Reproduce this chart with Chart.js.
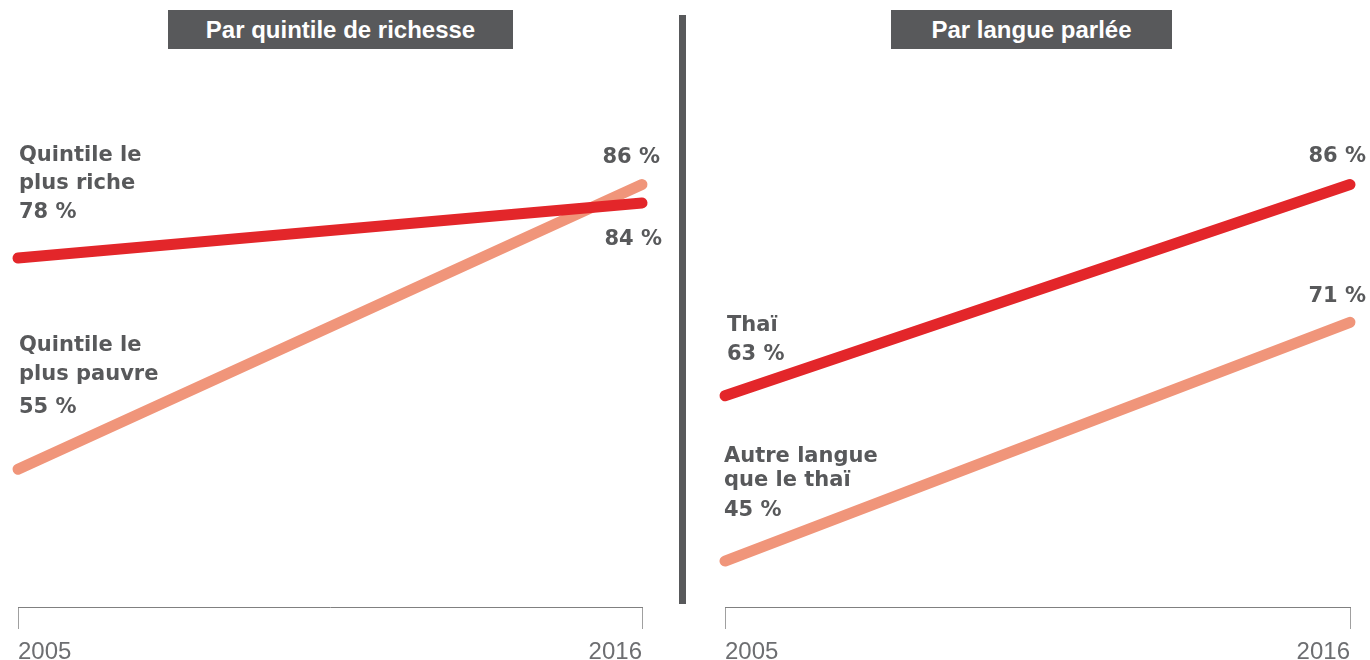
<!DOCTYPE html>
<html>
<head>
<meta charset="utf-8">
<script src="https://cdn.jsdelivr.net/npm/chart.js@4.4.1/dist/chart.umd.min.js"></script>
<style>
  body { margin: 0; background: #fff; width: 1370px; height: 660px; position: relative; overflow: hidden; }
  .box { position: absolute; top: 0; height: 675px; }
  .title { position: absolute; top: 10px; height: 39px; line-height: 40px; background: #58595b; color: #fff;
           font-family: "Liberation Sans Narrow", "Liberation Sans", sans-serif; font-weight: bold; font-size: 24px;
           text-align: center; z-index: 2; }
  #divider { position: absolute; left: 679px; top: 15px; width: 7px; height: 589px; background: #58595b; z-index: 2; }
</style>
</head>
<body>
<div class="box" style="left:0;width:680px"><canvas id="wealth" width="680" height="675"></canvas></div>
<div class="box" style="left:680px;width:690px"><canvas id="language" width="690" height="675"></canvas></div>
<div class="title" style="left:168px;width:345px">Par quintile de richesse</div>
<div class="title" style="left:891px;width:281px">Par langue parlée</div>
<div id="divider"></div>

<script>
// data
var years = ['2005', '2016'];

var richestValues = [78, 84];
var poorestValues = [55, 86];
var richestName = ['Quintile le', 'plus riche'];
var poorestName = ['Quintile le', 'plus pauvre'];

var thaiValues = [63, 86];
var otherLangValues = [45, 71];
var thaiName = ['Thaï'];
var otherLangName = ['Autre langue', 'que le thaï'];

var RED = '#e3262a';
var SALMON = '#f0957a';
var TEXT = '#58595b';

function pct(v) {
  return v + ' %';
}

// writes the series names and values next to the line ends
var pointText = {
  id: 'pointText',
  afterDatasetsDraw: function (chart, args, opts) {
    var ctx = chart.ctx;
    var xs = chart.scales.x, ys = chart.scales.y;
    ctx.save();
    ctx.fillStyle = TEXT;
    ctx.font = 'bold 21px "DejaVu Sans", sans-serif';
    ctx.textBaseline = 'middle';
    opts.items.forEach(function (it) {
      var ds = chart.data.datasets[it.dataset];
      var px = xs.getPixelForValue(it.index);
      var py = ys.getPixelForValue(ds.data[it.index]);
      var lines = (it.index === 0 ? ds.name : []).concat([pct(ds.data[it.index])]);
      ctx.textAlign = it.align;
      lines.forEach(function (line, k) {
        ctx.fillText(line, px + it.dx, py + it.dy[k]);
      });
    });
    ctx.restore();
  }
};

function makeChart(id, top, bottom, padding, items) {
  var ctx = document.getElementById(id).getContext('2d');
  return new Chart(ctx, {
    type: 'line',
    data: {
      labels: years,
      datasets: [
        { name: top.name, data: top.data, borderColor: RED },
        { name: bottom.name, data: bottom.data, borderColor: SALMON }
      ].map(function (d) {
        d.borderWidth = 11;
        d.borderCapStyle = 'round';
        d.pointRadius = 0;
        d.tension = 0;
        d.clip = false;
        return d;
      })
    },
    options: {
      responsive: false,
      animation: false,
      events: [],
      layout: { padding: padding },
      plugins: {
        legend: { display: false },
        tooltip: { enabled: false },
        pointText: { items: items }
      },
      scales: {
        x: {
          offset: false,
          grid: { drawOnChartArea: false, drawTicks: true, tickLength: 22, color: '#a0a0a0', lineWidth: 1, offset: false },
          border: { display: true, color: '#808080', dash: [1, 3], width: 1 },
          ticks: {
            align: 'inner', padding: 11, color: '#6d6e71', maxRotation: 0, autoSkip: false,
            font: { family: '"Liberation Sans Narrow", "Liberation Sans", sans-serif', size: 24, lineHeight: 1 }
          }
        },
        y: { display: false, min: 40, max: 100 }
      }
    },
    plugins: [pointText]
  });
}

makeChart('wealth',
  { name: richestName, data: richestValues },
  { name: poorestName, data: poorestValues },
  { top: 56, left: 18, right: 38, bottom: 0 },
  [
    { dataset: 0, index: 0, align: 'left', dx: 1, dy: [-102, -74, -45] },
    { dataset: 1, index: 0, align: 'left', dx: 1, dy: [-124, -95, -62] },
    { dataset: 1, index: 1, align: 'right', dx: 18, dy: [-27] },
    { dataset: 0, index: 1, align: 'right', dx: 20, dy: [37] }
  ]);

makeChart('language',
  { name: thaiName, data: thaiValues },
  { name: otherLangName, data: otherLangValues },
  { top: 56, left: 45, right: 20, bottom: 0 },
  [
    { dataset: 0, index: 0, align: 'left', dx: 2, dy: [-70, -41] },
    { dataset: 1, index: 0, align: 'left', dx: -1, dy: [-105, -81, -51] },
    { dataset: 0, index: 1, align: 'right', dx: 16, dy: [-28] },
    { dataset: 1, index: 1, align: 'right', dx: 16, dy: [-26] }
  ]);
</script>
</body>
</html>
